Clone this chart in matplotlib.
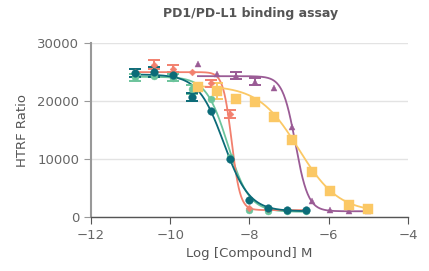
import numpy as np
import matplotlib
matplotlib.use("Agg")
from matplotlib import pyplot as plt

# log concentrations (3-fold dilutions)
x_a = [-10.9, -10.42, -9.94, -9.46, -8.98, -8.5, -8.02, -7.54, -7.06, -6.58]
x_b = [-9.3, -8.82, -8.34, -7.87, -7.39, -6.92, -6.43, -5.96, -5.49, -5.01]

# measured points
teal_y = [24800, 25000, 24500, 20700, 18300, 10000, 2900, 1500, 1300, 1300]
teal_err = [700, 900, 0, 700, 0, 0, 0, 0, 0, 0]
green_y = [24100, 24300, 24000, 22000, 20300, 10400, 1250, 1100, 1000, 1000]
green_err = [600, 0, 600, 800, 0, 0, 0, 0, 0, 0]
salmon_y = [25000, 26300, 25600, 25000, 23100, 17800, 1500, 1400, 1200, 1200]
salmon_err = [0, 700, 600, 0, 600, 700, 0, 0, 0, 0]
purple_y = [26400, 24700, 24400, 23300, 22300, 15600, 2700, 1200, 1100, 1000]
purple_err = [0, 0, 650, 600, 0, 0, 0, 0, 0, 0]
yellow_y = [22400, 21700, 20300, 19900, 17200, 13300, 7800, 4500, 2100, 1400]
yellow_err = [0, 1400, 0, 0, 0, 0, 0, 0, 0, 0]

# 4PL fit parameters: top, bottom, logIC50, hill
teal_fit = [24600, 1000, -8.65, 1.35]
green_fit = [24200, 900, -8.55, 1.6]
salmon_fit = [25000, 1200, -8.45, 4.0]
purple_fit = [24300, 1000, -6.84, 2.7]
yellow_fit = [22700, 800, -6.76, 0.86]

teal = "#0b6b78"
green = "#6cc49c"
salmon = "#f2806e"
purple = "#9a5b95"
yellow = "#fbc865"
grey = "#666666"


def four_pl(x, p):
    top, bottom, c, h = p
    return bottom + (top - bottom) / (1 + 10 ** ((x - c) * h))


fig = plt.figure(figsize=(4.29, 2.71), dpi=100)
ax = fig.add_axes([0.212, 0.199, 0.739, 0.642])

series = [
    (x_a, green_y, green_err, green_fit, green, "o", 5),
    (x_a, salmon_y, salmon_err, salmon_fit, salmon, "D", 3.5),
    (x_b, purple_y, purple_err, purple_fit, purple, "^", 5),
    (x_b, yellow_y, yellow_err, yellow_fit, yellow, "s", 7),
    (x_a, teal_y, teal_err, teal_fit, teal, "o", 5.5),
]

for xs, ys, err, fit, col, mk, ms in series:
    xf = np.linspace(xs[0], xs[-1], 300)
    ax.plot(xf, four_pl(xf, fit), color=col, lw=1.3, zorder=2)
    ys = np.array(ys)
    err = np.array(err)
    has = err > 0
    ax.errorbar(np.array(xs)[has], ys[has], yerr=err[has], fmt="none",
                ecolor=col, elinewidth=1.4, capsize=4.5, capthick=1.4, zorder=3)
    ax.plot(xs, ys, mk, color=col, ms=ms, mec=col, mew=0.3, zorder=4)

ax.set_xlim(-12, -4)
ax.set_ylim(0, 30000)
ax.set_xticks([-12, -10, -8, -6, -4])
ax.set_yticks([0, 10000, 20000, 30000])
ax.yaxis.grid(True, color="#e3e3e3", lw=1)
ax.set_axisbelow(True)

for s in ["top", "right"]:
    ax.spines[s].set_visible(False)
ax.spines["left"].set_color("#999999")
ax.spines["left"].set_linewidth(1.5)
ax.spines["bottom"].set_color("#555555")
ax.spines["bottom"].set_linewidth(1)
ax.tick_params(axis="y", length=5, color="#999999", labelcolor=grey, labelsize=9.5)
ax.tick_params(axis="x", length=5, color="#555555", labelcolor=grey, labelsize=9.5)

ax.set_xlabel("Log [Compound] M", color="#555555", fontsize=9.5, labelpad=4)
ax.set_ylabel("HTRF Ratio", color="#555555", fontsize=9.5, labelpad=6)
fig.text(0.583, 0.952, "PD1/PD-L1 binding assay", ha="center", va="center",
         fontsize=9, fontweight="bold", color="#555555")

fig.savefig("out.png", dpi=100)
